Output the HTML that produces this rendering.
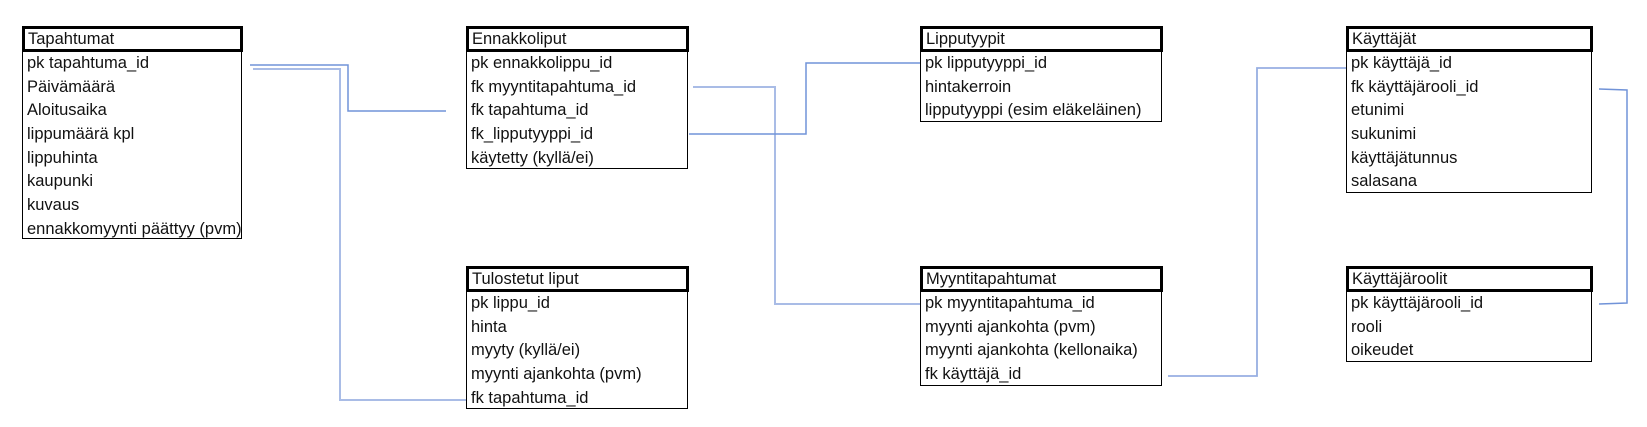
<!DOCTYPE html>
<html><head><meta charset="utf-8"><style>
body{margin:0;width:1647px;height:427px;background:#fff;position:relative;overflow:hidden;font-family:"Liberation Sans",sans-serif;color:#111}
.h{position:absolute;box-sizing:border-box;border:3px solid #000;font-size:16.5px;line-height:20px;padding-left:3px}
.b{position:absolute;box-sizing:border-box;border:1.5px solid #000;border-top:none;font-size:16.5px;padding-left:4px;padding-top:1px}
.b div{height:23.7px;line-height:23.7px;white-space:nowrap}
svg{position:absolute;left:0;top:0}
</style></head><body>
<svg width="1647" height="427"><g fill="none" stroke="#7193d8" stroke-width="1.5">
<polyline points="250,65 348,65 348,111 446,111"/>
<polyline points="253,69 340,69 340,400 466,400" stroke="#a9bce6" stroke-width="2"/>
<polyline points="693,87 775,87 775,304 920,304" stroke="#a9bce6" stroke-width="2"/>
<polyline points="689,134 806,134 806,63 920,63"/>
<polyline points="1168,376 1257,376 1257,68 1346,68" stroke="#97afe2" stroke-width="1.8"/>
<polyline points="1599,89 1627,90 1627,303 1599,304"/>
</g></svg>

<div class="h" style="left:22px;top:26px;width:221px;height:26px">Tapahtumat</div>
<div class="b" style="left:22px;top:51px;width:220px;height:188px"><div>pk tapahtuma_id</div><div>Päivämäärä</div><div>Aloitusaika</div><div>lippumäärä kpl</div><div>lippuhinta</div><div>kaupunki</div><div>kuvaus</div><div>ennakkomyynti päättyy (pvm)</div></div>

<div class="h" style="left:466px;top:26px;width:223px;height:26px">Ennakkoliput</div>
<div class="b" style="left:466px;top:51px;width:222px;height:118px"><div>pk ennakkolippu_id</div><div>fk myyntitapahtuma_id</div><div>fk tapahtuma_id</div><div>fk_lipputyyppi_id</div><div>käytetty (kyllä/ei)</div></div>

<div class="h" style="left:466px;top:266px;width:223px;height:26px">Tulostetut liput</div>
<div class="b" style="left:466px;top:291px;width:222px;height:118px"><div>pk lippu_id</div><div>hinta</div><div>myyty (kyllä/ei)</div><div>myynti ajankohta (pvm)</div><div>fk tapahtuma_id</div></div>

<div class="h" style="left:920px;top:26px;width:243px;height:26px">Lipputyypit</div>
<div class="b" style="left:920px;top:51px;width:242px;height:71px"><div>pk lipputyyppi_id</div><div>hintakerroin</div><div>lipputyyppi (esim eläkeläinen)</div></div>

<div class="h" style="left:920px;top:266px;width:243px;height:26px">Myyntitapahtumat</div>
<div class="b" style="left:920px;top:291px;width:242px;height:95px"><div>pk myyntitapahtuma_id</div><div>myynti ajankohta (pvm)</div><div>myynti ajankohta (kellonaika)</div><div>fk käyttäjä_id</div></div>

<div class="h" style="left:1346px;top:26px;width:247px;height:26px">Käyttäjät</div>
<div class="b" style="left:1346px;top:51px;width:246px;height:142px"><div>pk käyttäjä_id</div><div>fk käyttäjärooli_id</div><div>etunimi</div><div>sukunimi</div><div>käyttäjätunnus</div><div>salasana</div></div>

<div class="h" style="left:1346px;top:266px;width:247px;height:26px">Käyttäjäroolit</div>
<div class="b" style="left:1346px;top:291px;width:246px;height:71px"><div>pk käyttäjärooli_id</div><div>rooli</div><div>oikeudet</div></div>
</body></html>
